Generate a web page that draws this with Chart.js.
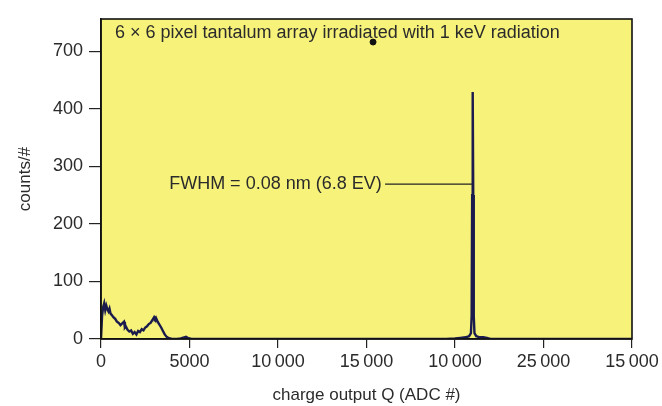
<!DOCTYPE html>
<html>
<head>
<meta charset="utf-8">
<script src="https://cdn.jsdelivr.net/npm/chart.js@4/dist/chart.umd.min.js"></script>
<style>
  html, body { margin: 0; padding: 0; background: #ffffff; }
  #wrap { width: 662px; height: 406px; position: relative; }
</style>
</head>
<body>
<div id="wrap"><canvas id="c" width="662" height="406"></canvas></div>
<script>
// ---- data ----
const chargeQ = [0, 60, 120, 180, 240, 300, 360, 420, 480, 540, 600, 700, 800, 900, 1000, 1100, 1200, 1300, 1350, 1400, 1500, 1600, 1700, 1800, 1900, 2000, 2100, 2200, 2300, 2400, 2500, 2600, 2700, 2800, 2900, 3000, 3050, 3100, 3200, 3300, 3400, 3500, 3600, 3700, 3800, 3900, 4000, 4300, 4500, 4700, 4800, 4900, 5100, 19500, 20000, 20300, 20600, 20800, 20900, 20940, 20970, 21000, 21030, 21060, 21100, 21200, 21400, 21600, 21800, 22000, 30000];
const counts = [0, 40, 55, 62, 50, 58, 52, 48, 53, 44, 42, 38, 35, 30, 28, 24, 27, 30, 20, 22, 16, 13, 15, 9, 12, 8, 14, 12, 17, 15, 20, 22, 26, 28, 33, 38, 35, 37, 30, 25, 20, 14, 8, 4, 2, 1, 0, 0, 1, 3, 4, 2, 0, 0, 1, 2, 3, 5, 10, 40, 250, 429, 250, 40, 10, 5, 3, 3, 2, 0, 0];
const xTickValues = [0, 5000, 10000, 15000, 20000, 25000, 30000];
const xTickLabels = ['0', '5000', '10\u2009000', '15\u2009000', '10\u2009000', '25\u2009000', '15\u2009000'];
const yTickValues = [0, 100, 200, 300, 400, 500];
const yTickLabels = ['0', '100', '200', '300', '400', '700'];
const inkDot = [{ x: 15370, y: 516 }];
const chartTitle = '6 \u00d7 6 pixel tantalum array irradiated with 1 keV radiation';
const fwhmText = 'FWHM = 0.08 nm (6.8 EV)';
const fwhmTextX = 3850;
const fwhmLineX = [16050, 21000];
const fwhmY = 269;
const xTitle = 'charge output Q (ADC #)';
const yTitle = 'counts/#';

const FONT = "'Liberation Sans', Arial, sans-serif";
const TXT = '#2b2b2b';

const panelPlugin = {
  id: 'panel',
  beforeDraw(chart) {
    const { ctx, chartArea: a } = chart;
    ctx.save();
    ctx.fillStyle = '#f6f27a';
    ctx.fillRect(a.left, a.top, a.right - a.left, a.bottom - a.top);
    ctx.restore();
  },
  afterDraw(chart) {
    const { ctx, chartArea: a, scales } = chart;
    ctx.save();
    ctx.strokeStyle = '#111111';
    ctx.lineWidth = 1.6;
    ctx.strokeRect(a.left, a.top, a.right - a.left, a.bottom - a.top);
    // title inside panel
    ctx.fillStyle = TXT;
    ctx.font = '18px ' + FONT;
    ctx.textBaseline = 'middle';
    ctx.textAlign = 'left';
    ctx.fillText(chartTitle, a.left + 14, a.top + 14);
    // FWHM annotation
    const y = scales.y.getPixelForValue(fwhmY);
    ctx.fillText(fwhmText, scales.x.getPixelForValue(fwhmTextX), y);
    ctx.strokeStyle = '#222222';
    ctx.lineWidth = 1.2;
    ctx.beginPath();
    ctx.moveTo(scales.x.getPixelForValue(fwhmLineX[0]), y);
    ctx.lineTo(scales.x.getPixelForValue(fwhmLineX[1]), y);
    ctx.stroke();
    ctx.restore();
  }
};

new Chart(document.getElementById('c'), {
  type: 'scatter',
  data: {
    datasets: [
      {
        data: chargeQ.map((q, i) => ({ x: q, y: counts[i] })),
        showLine: true,
        borderColor: '#1b1b4d',
        borderWidth: 2.4,
        pointRadius: 0,
        tension: 0,
        order: 2
      },
      {
        data: inkDot,
        showLine: false,
        pointRadius: 3,
        backgroundColor: '#111111',
        borderColor: '#111111',
        order: 1
      }
    ]
  },
  options: {
    responsive: false,
    animation: false,
    layout: { padding: { left: 0, right: 30, top: 19, bottom: 0 } },
    plugins: { legend: { display: false }, tooltip: { enabled: false } },
    scales: {
      x: {
        type: 'linear',
        min: 0,
        max: 30000,
        afterBuildTicks(axis) { axis.ticks = xTickValues.map(v => ({ value: v })); },
        afterFit(axis) { axis.height = 67; },
        ticks: {
          autoSkip: false,
          maxRotation: 0,
          padding: 3,
          color: TXT,
          font: { family: FONT, size: 18 },
          callback: (v) => xTickLabels[xTickValues.indexOf(v)]
        },
        grid: { display: true, drawOnChartArea: false, drawTicks: true, tickLength: 9, color: '#222222', lineWidth: 1.2 },
        border: { display: true, color: '#111111', width: 1.6 },
        title: { display: true, text: xTitle, color: TXT, font: { family: FONT, size: 17 }, padding: { top: 3, bottom: 0 } }
      },
      y: {
        type: 'linear',
        min: 0,
        max: 556,
        afterBuildTicks(axis) { axis.ticks = yTickValues.map(v => ({ value: v })); },
        afterFit(axis) { axis.width = 101; },
        ticks: {
          autoSkip: false,
          padding: 6,
          color: TXT,
          font: { family: FONT, size: 18 },
          callback: (v) => yTickLabels[yTickValues.indexOf(v)]
        },
        grid: { display: true, drawOnChartArea: false, drawTicks: true, tickLength: 12, color: '#222222', lineWidth: 1.2 },
        border: { display: true, color: '#111111', width: 1.6 },
        title: { display: true, text: yTitle, color: TXT, font: { family: FONT, size: 17 }, padding: { top: 15, bottom: 0 } }
      }
    }
  },
  plugins: [panelPlugin]
});
</script>
</body>
</html>
